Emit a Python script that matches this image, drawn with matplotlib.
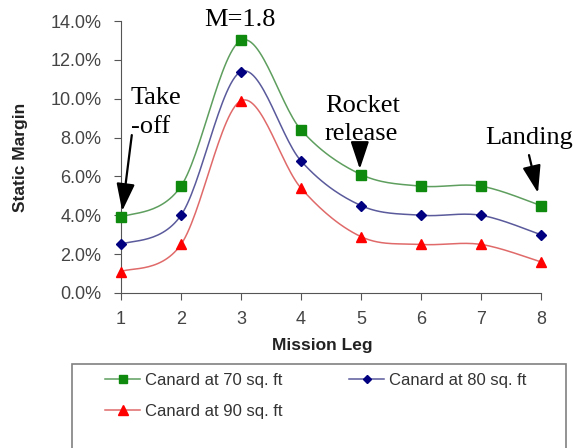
import numpy as np
import matplotlib
matplotlib.use("Agg")
import matplotlib.pyplot as plt
from matplotlib.patches import Rectangle
from matplotlib.lines import Line2D

# data
legs = [1, 2, 3, 4, 5, 6, 7, 8]
canard_70 = [3.9, 5.5, 13.0, 8.4, 6.1, 5.5, 5.5, 4.5]
canard_80 = [2.5, 4.0, 11.4, 6.8, 4.5, 4.0, 4.0, 3.0]
canard_90 = [1.1, 2.5, 9.9, 5.4, 2.9, 2.5, 2.5, 1.6]
labels = ["Canard at 70 sq. ft", "Canard at 80 sq. ft", "Canard at 90 sq. ft"]
yticks = [0, 2, 4, 6, 8, 10, 12, 14]


def smooth(x, y, n=30):
    # excel style smoothed line (bezier through points, tension 1/6)
    x = np.asarray(x, float)
    y = np.asarray(y, float)
    P = np.column_stack([x, y])
    out = []
    for i in range(len(P) - 1):
        p0 = P[i - 1] if i > 0 else P[i]
        p1 = P[i]
        p2 = P[i + 1]
        p3 = P[i + 2] if i + 2 < len(P) else P[i + 1]
        c1 = p1 + (p2 - p0) / 6.0
        c2 = p2 - (p3 - p1) / 6.0
        t = np.linspace(0, 1, n)[:, None]
        seg = ((1 - t) ** 3) * p1 + 3 * ((1 - t) ** 2) * t * c1 + 3 * (1 - t) * t ** 2 * c2 + t ** 3 * p2
        out.append(seg if i == 0 else seg[1:])
    out = np.vstack(out)
    return out[:, 0], out[:, 1]


plt.rcParams['font.family'] = ['Liberation Sans', 'DejaVu Sans']

fig = plt.figure(figsize=(5.74, 4.48), dpi=100)
ax = fig.add_axes([0.2108, 0.346, 0.7317, 0.607])

series = [
    (canard_70, 's', '#5e9e5e', '#0f8a0f', 7),
    (canard_80, 'D', '#5a5a9c', '#000080', 5.5),
    (canard_90, '^', '#e06a6a', '#ff0000', 7.5),
]
handles = []
for (vals, mk, lc, mc, ms), lab in zip(series, labels):
    sx, sy = smooth(legs, vals)
    ax.plot(sx, sy, color=lc, lw=1.1, clip_on=False)
    ax.plot(legs, vals, linestyle='none', marker=mk, color=mc, ms=ms, clip_on=False, zorder=3)
    handles.append(Line2D([], [], color=lc, lw=1.1, marker=mk, mfc=mc, mec=mc, ms=ms - 1, label=lab))

ax.set_xlim(1, 8)
ax.set_ylim(0, 14)
ax.set_xticks(legs)
ax.set_yticks(yticks)
ax.set_yticklabels([f"{v:.1f}%" for v in yticks])
for s in ['top', 'right']:
    ax.spines[s].set_visible(False)
for s in ['left', 'bottom']:
    ax.spines[s].set_color('#555555')
ax.tick_params(colors='#555555', labelcolor='#444444', labelsize=13, length=5, direction='out')
ax.tick_params(axis='x', pad=8)
ax.tick_params(axis='y', pad=9)

ax.set_xlabel("Mission Leg", fontsize=12.5, fontweight='bold', color='#222222')
ax.set_ylabel("Static Margin", fontsize=12.5, fontweight='bold', color='#222222')
ax.xaxis.set_label_coords(0.479, -0.167)
ax.yaxis.set_label_coords(-0.222, 0.5)

# annotations
serif = dict(family=['Liberation Serif', 'DejaVu Serif'], fontsize=19, color='black')
ax.text(2.98, 13.74, "M=1.8", ha='center', va='baseline', **serif)
ax.text(1.167, 9.73, "Take", ha='left', va='baseline', **serif)
ax.text(1.167, 8.23, "-off", ha='left', va='baseline', **serif)
ax.text(4.4, 9.32, "Rocket", ha='left', va='baseline', **serif)
ax.text(4.4, 7.87, "release", ha='left', va='baseline', **serif)
ax.text(7.07, 7.67, "Landing", ha='left', va='baseline', **serif)

arrow = dict(arrowstyle='-|>,head_length=0.6,head_width=0.2', color='black', lw=1.6,
             mutation_scale=28, shrinkA=0, shrinkB=0)
ax.annotate("", xy=(1.02, 4.22), xytext=(1.18, 8.13), arrowprops=arrow, annotation_clip=False)
ax.annotate("", xy=(4.98, 6.38), xytext=(4.98, 7.67), arrowprops=arrow, annotation_clip=False)
ax.annotate("", xy=(7.95, 5.15), xytext=(7.8, 7.1), arrowprops=arrow, annotation_clip=False)

# legend box (runs off the bottom edge like the original)
fig.patches.append(Rectangle((0.1254, -0.05), 0.8606, 0.2375, transform=fig.transFigure,
                             fill=False, edgecolor='#808080', lw=1.2))
order = [handles[0], handles[2], handles[1]]
fig.legend(handles=order, loc='upper left', bbox_to_anchor=(105 / 574, 1 - 373 / 448),
           ncol=2, frameon=False, fontsize=12, handlelength=2.1, handletextpad=0.3,
           columnspacing=4.0, labelspacing=0.95, borderpad=0, borderaxespad=0,
           labelcolor='#333333')

fig.savefig("out.png", dpi=100)
